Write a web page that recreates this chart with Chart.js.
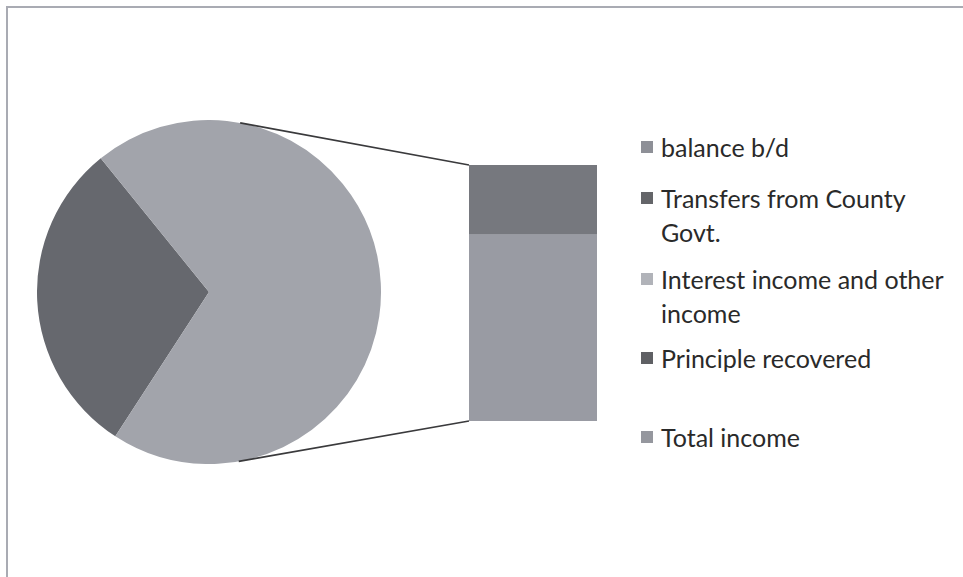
<!DOCTYPE html>
<html><head><meta charset="utf-8">
<script src="https://cdn.jsdelivr.net/npm/chart.js@4"></script>
<style>
html,body{margin:0;padding:0;background:#fff;}
#stage{position:relative;width:963px;height:577px;overflow:hidden;font-family:Lato,'Open Sans',sans-serif;}
#frame{position:absolute;left:6px;top:6px;width:980px;height:600px;border-top:2px solid #a9abb3;border-left:2px solid #a9abb3;}
#pieBox{position:absolute;left:37px;top:120px;width:344px;height:344px;}
#barBox{position:absolute;left:220px;top:100px;width:400px;height:380px;}
.leg{position:absolute;left:641px;color:#2a2a2a;font-size:25px;line-height:34px;}
.leg i{position:absolute;left:0;top:11px;width:12px;height:12px;}
.leg span{display:block;margin-left:20px;width:295px;}
</style>
</head><body>
<div id="stage">
  <div id="frame"></div>
  <div id="pieBox"><canvas id="pie"></canvas></div>
  <div id="barBox"><canvas id="bar"></canvas></div>
  <div id="legend"></div>
</div>
<script>
// ---- data (shares of the whole) ----
const categories = ['balance b/d', 'Transfers from County Govt.', 'Interest income and other income', 'Principle recovered', 'Total income'];
const values = [0, 30, 0, 19, 51];
const legendColors = ['#8e9097', '#646569', '#b1b3b9', '#5f6064', '#95979e'];
const pieIndex = [1];        // shown as slices of the pie
const barIndex = [4, 3];     // shown stacked in the bar (bottom -> top)
const pieColors = ['#66686e', '#a2a4ab'];
const barColors = ['#999ba3', '#76787e'];
const legendTops = [130, 181, 262, 341, 420];

// legend (real text)
const legendEl = document.getElementById('legend');
categories.forEach((c, i) => {
  const d = document.createElement('div');
  d.className = 'leg';
  d.style.top = legendTops[i] + 'px';
  const m = document.createElement('i');
  m.style.background = legendColors[i];
  const s = document.createElement('span');
  s.textContent = c;
  d.appendChild(m); d.appendChild(s);
  legendEl.appendChild(d);
});

const barValues = barIndex.map(i => values[i]);
const otherTotal = barValues.reduce((a, b) => a + b, 0);
const pieValues = pieIndex.map(i => values[i]).concat([otherTotal]);
const pieLabels = pieIndex.map(i => categories[i]).concat(['Other']);

const pie = new Chart(document.getElementById('pie'), {
  type: 'pie',
  data: { labels: pieLabels, datasets: [{ data: pieValues, backgroundColor: pieColors, borderWidth: 0, hoverOffset: 0 }] },
  options: {
    responsive: true, maintainAspectRatio: false, animation: false, events: [],
    rotation: 213,
    layout: { padding: 0 },
    plugins: { legend: { display: false }, tooltip: { enabled: false } }
  }
});

const connector = {
  id: 'connector',
  afterDatasetsDraw(chart) {
    const arc = pie.getDatasetMeta(0).data[0];
    const pb = document.getElementById('pieBox'), bb = document.getElementById('barBox');
    const cx = arc.x + pb.offsetLeft - bb.offsetLeft;
    const cy = arc.y + pb.offsetTop - bb.offsetTop;
    const r = arc.outerRadius;
    const bar = chart.getDatasetMeta(0).data[0];
    const left = bar.x - bar.width / 2;
    const ys = chart.scales.y;
    const yTop = ys.getPixelForValue(ys.max), yBot = ys.getPixelForValue(0);
    function tangent(px, py, sign) {
      const vx = px - cx, vy = py - cy;
      const d = Math.hypot(vx, vy);
      const t = Math.atan2(vy, vx) + sign * Math.acos(r / d);
      return [cx + r * Math.cos(t), cy + r * Math.sin(t)];
    }
    const ctx = chart.ctx;
    ctx.save();
    ctx.strokeStyle = '#3a3a3c';
    ctx.lineWidth = 1.6;
    const t1 = tangent(left, yTop, -1), t2 = tangent(left, yBot, 1);
    ctx.beginPath();
    ctx.moveTo(t1[0], t1[1]); ctx.lineTo(left, yTop);
    ctx.moveTo(t2[0], t2[1]); ctx.lineTo(left, yBot);
    ctx.stroke();
    ctx.restore();
  }
};

new Chart(document.getElementById('bar'), {
  type: 'bar',
  data: {
    labels: [''],
    datasets: barIndex.map((ci, k) => ({
      label: categories[ci], data: [values[ci]], backgroundColor: barColors[k],
      borderWidth: 0, categoryPercentage: 1, barPercentage: 1
    }))
  },
  options: {
    responsive: true, maintainAspectRatio: false, animation: false, events: [],
    layout: { padding: { left: 249, right: 23, top: 65, bottom: 59 } },
    scales: {
      x: { stacked: true, display: false },
      y: { stacked: true, display: false, min: 0, max: otherTotal }
    },
    plugins: { legend: { display: false }, tooltip: { enabled: false } }
  },
  plugins: [connector]
});
</script>
</body></html>
